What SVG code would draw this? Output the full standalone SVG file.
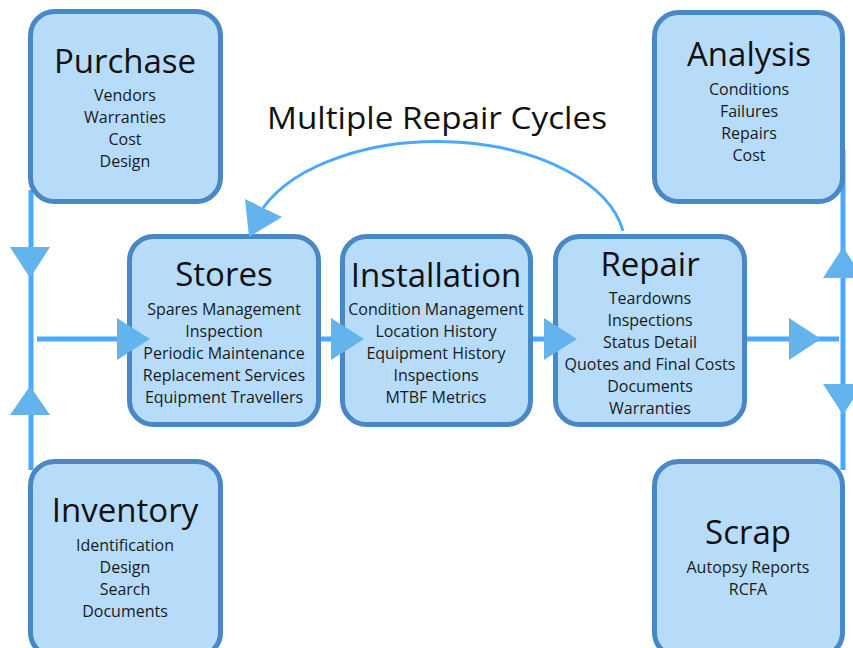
<svg xmlns="http://www.w3.org/2000/svg" width="853" height="648" viewBox="0 0 853 648">
<style>
.box{fill:#b7dcfa;stroke:#4a87c6;stroke-width:5}
.t{font-family:"Open Sans",sans-serif;font-size:33px;fill:#111;text-anchor:middle}
.s{font-family:"Open Sans",sans-serif;font-size:16px;fill:#1a1a1a;text-anchor:middle}
.ln{stroke:#4aa8ff;stroke-width:5;fill:none}
.ah{fill:#63b4ec}
</style>
<rect width="853" height="648" fill="#fff"/>
<g id="connectors">
<line class="ln" x1="31" y1="190" x2="31" y2="470"/>
<line class="ln" x1="843" y1="150" x2="843" y2="470"/>
<line class="ln" x1="37" y1="339" x2="130" y2="339"/>
<line class="ln" x1="318" y1="339" x2="343" y2="339"/>
<line class="ln" x1="530" y1="339" x2="556" y2="339"/>
<line class="ln" x1="744" y1="339" x2="839" y2="339"/>
<path class="ln" style="stroke-width:3" d="M623 231 A188 106 0 0 0 263 208"/>
</g>
<g id="purchase"><rect class="box" x="30.5" y="11.5" width="190" height="190" rx="24"/>
<text class="t" x="125" y="73">Purchase</text>
<text class="s" x="125" y="101">Vendors</text><text class="s" x="125" y="123">Warranties</text><text class="s" x="125" y="145">Cost</text><text class="s" x="125" y="167">Design</text></g>
<g id="inventory"><rect class="box" x="30.5" y="461.5" width="190" height="195" rx="24"/>
<text class="t" x="125" y="522">Inventory</text>
<text class="s" x="125" y="551">Identification</text><text class="s" x="125" y="573">Design</text><text class="s" x="125" y="595">Search</text><text class="s" x="125" y="617">Documents</text></g>
<g id="stores"><rect class="box" x="129.5" y="236.5" width="189" height="188" rx="24"/>
<text class="t" x="224" y="286">Stores</text>
<text class="s" x="224" y="315">Spares Management</text><text class="s" x="224" y="337">Inspection</text><text class="s" x="224" y="359">Periodic Maintenance</text><text class="s" x="224" y="381">Replacement Services</text><text class="s" x="224" y="403">Equipment Travellers</text></g>
<g id="installation"><rect class="box" x="342.5" y="236.5" width="188" height="188" rx="24"/>
<text class="t" x="436" y="287">Installation</text>
<text class="s" x="436" y="315">Condition Management</text><text class="s" x="436" y="337">Location History</text><text class="s" x="436" y="359">Equipment History</text><text class="s" x="436" y="381">Inspections</text><text class="s" x="436" y="403">MTBF Metrics</text></g>
<g id="repair"><rect class="box" x="555.5" y="236.5" width="189" height="188" rx="24"/>
<text class="t" x="650" y="276">Repair</text>
<text class="s" x="650" y="304">Teardowns</text><text class="s" x="650" y="326">Inspections</text><text class="s" x="650" y="348">Status Detail</text><text class="s" x="650" y="370">Quotes and Final Costs</text><text class="s" x="650" y="392">Documents</text><text class="s" x="650" y="414">Warranties</text></g>
<g id="analysis"><rect class="box" x="654.5" y="12.5" width="188" height="189" rx="24"/>
<text class="t" x="749" y="66">Analysis</text>
<text class="s" x="749" y="95">Conditions</text><text class="s" x="749" y="117">Failures</text><text class="s" x="749" y="139">Repairs</text><text class="s" x="749" y="161">Cost</text></g>
<g id="scrap"><rect class="box" x="654.5" y="461.5" width="188" height="195" rx="24"/>
<text class="t" x="748" y="544">Scrap</text>
<text class="s" x="748" y="573">Autopsy Reports</text><text class="s" x="748" y="595">RCFA</text></g>
<text id="cycles" x="437" y="129" font-family="Open Sans, sans-serif" font-size="31" fill="#111" text-anchor="middle" textLength="340" lengthAdjust="spacingAndGlyphs">Multiple Repair Cycles</text>
<g id="arrowheads">
<polygon class="ah" points="10,247 50,247 30,278"/>
<polygon class="ah" points="10,415 50,415 30,386"/>
<polygon class="ah" points="117,318 117,360 150,339"/>
<polygon class="ah" points="331,318 331,360 364,339"/>
<polygon class="ah" points="544,318 544,360 577,339"/>
<polygon class="ah" points="789,318 789,360 821,339"/>
<polygon class="ah" points="823,278 863,278 843,247"/>
<polygon class="ah" points="823,384 863,384 843,415"/>
<polygon class="ah" points="245,199 282,217 249,237"/>
</g>
</svg>
